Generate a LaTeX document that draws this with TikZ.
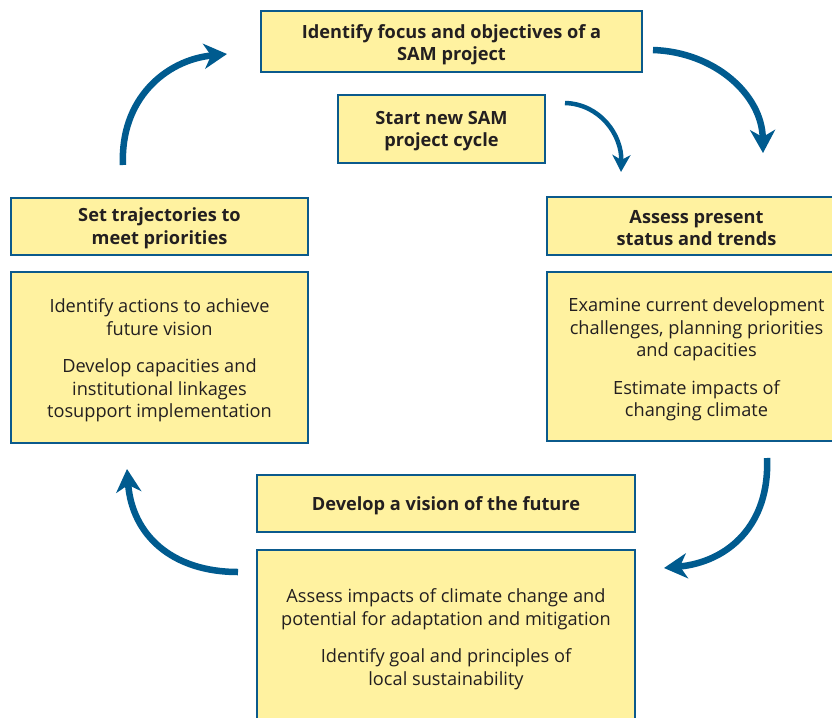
\documentclass[tikz,border=0pt]{standalone}
\usepackage{fontspec}
\setmainfont{Open Sans}
\usetikzlibrary{arrows.meta}
\definecolor{boxfill}{HTML}{FFF2A0}
\definecolor{boxline}{HTML}{0B5A8C}
\definecolor{arrowblue}{HTML}{005B8F}
\definecolor{txt}{HTML}{231F20}
\tikzset{
  box/.style={draw=boxline, line width=2.8pt, fill=boxfill, rectangle, inner sep=0pt},
  bodytext/.style={align=center, text=txt, inner sep=0pt, font=\fontsize{18.2}{22.5}\selectfont},
  titletext/.style={bodytext, font=\fontsize{18.2}{22.5}\selectfont\bfseries},
  cyclearrow/.style={draw=arrowblue, line width=6.5pt, -{Stealth[length=23pt, width=25pt, inset=7pt]}},
  smallarrow/.style={draw=arrowblue, line width=4.5pt, -{Stealth[length=17pt, width=18pt, inset=5pt]}},
}
\begin{document}
\begin{tikzpicture}[x=1pt,y=-1pt]
\useasboundingbox (0,0) rectangle (832,717);
% boxes
\node[box, minimum width=381pt, minimum height=61pt] (focus) at (451.5,41.5) {};
\node[box, minimum width=207pt, minimum height=68pt] (start) at (441.5,129) {};
\node[box, minimum width=297pt, minimum height=57pt] (traj) at (159.5,226.5) {};
\node[box, minimum width=297pt, minimum height=171pt] (actions) at (159.5,357.5) {};
\node[box, minimum width=299pt, minimum height=58pt] (assess) at (696.5,226) {};
\node[box, minimum width=299pt, minimum height=169pt] (examine) at (696.5,356.5) {};
\node[box, minimum width=378pt, minimum height=57pt] (vision) at (446,503.5) {};
\node[box, minimum width=378pt, minimum height=172pt] (impacts) at (446,636) {};
% texts
\node[titletext] (focust) at ([yshift=-3pt]focus.center) {Identify focus and objectives of a\\SAM project};
\node[titletext] (startt) at ([yshift=-2pt]start.center) {Start new SAM\\project cycle};
\node[titletext] (trajt) at ([yshift=-2pt]traj.center) {Set trajectories to\\meet priorities};
\node[bodytext] (actionst) at ([yshift=-3pt]actions.center)
  {Identify actions to achieve\\future vision\\[15pt]Develop capacities and\\institutional linkages\\tosupport implementation};
\node[titletext] (assesst) at ([yshift=-2pt]assess.center) {Assess present\\status and trends};
\node[bodytext] (examinet) at ([yshift=-3pt]examine.center)
  {Examine current development\\challenges, planning priorities\\and capacities\\[15pt]Estimate impacts of\\changing climate};
\node[titletext] (visiont) at ([yshift=-2pt]vision.center) {Develop a vision of the future};
\node[bodytext] (impactst) at ([yshift=-3pt]impacts.center)
  {Assess impacts of climate change and\\potential for adaptation and mitigation\\[15pt]Identify goal and principles of\\local sustainability};
% arrow end points
\coordinate (a1s) at (653,50);  \coordinate (a1e) at (763,153);
\coordinate (a2s) at (565,103); \coordinate (a2e) at (621,172);
\coordinate (a3s) at (123,165); \coordinate (a3e) at (227,54);
\coordinate (a4s) at (767,458); \coordinate (a4e) at (664,568);
\coordinate (a5s) at (238,572); \coordinate (a5e) at (127,469);
\draw[cyclearrow] (a1s) .. controls (715,52) and (762,95) .. (a1e);
\draw[smallarrow] (a2s) .. controls (600,104) and (622,135) .. (a2e);
\draw[cyclearrow] (a3s) .. controls (120,100) and (165,60) .. (a3e);
\draw[cyclearrow] (a4s) .. controls (770,525) and (728,562) .. (a4e);
\draw[cyclearrow] (a5s) .. controls (172,572) and (132,535) .. (a5e);
\end{tikzpicture}
\end{document}
